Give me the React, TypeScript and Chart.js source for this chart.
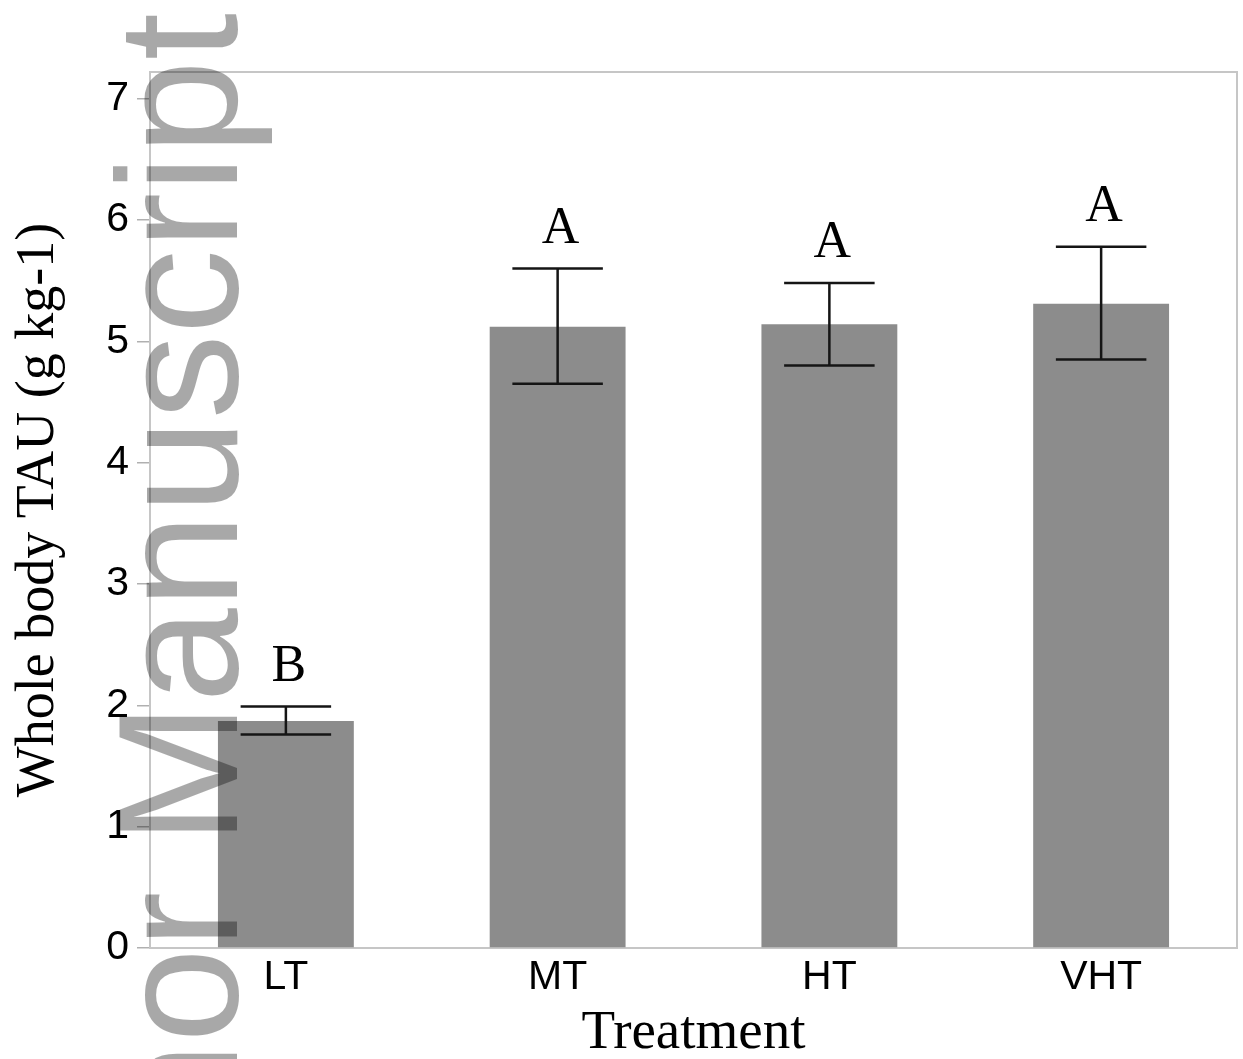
import React, { useEffect, useRef } from "react";
import { Chart, registerables } from "chart.js";

Chart.register(...registerables);

const categories = ["LT", "MT", "HT", "VHT"];
const means = [1.87, 5.12, 5.14, 5.31];
const errLow = [1.76, 4.65, 4.8, 4.85];
const errHigh = [1.99, 5.6, 5.48, 5.78];
const letters = ["B", "A", "A", "A"];
const yTicks = [0, 1, 2, 3, 4, 5, 6, 7];
const yMax = 7.22;
const xTitle = "Treatment";
const yTitle = "Whole body TAU (g kg-1)";
const watermarkText = "Author Manuscript";

const SANS = "'Liberation Sans Narrow', 'Arial Narrow', 'Liberation Sans', Arial, sans-serif";
const SERIF = "'Liberation Serif', 'Times New Roman', serif";

export default function App() {
  const ref = useRef<HTMLCanvasElement>(null);

  useEffect(() => {
    document.body.style.margin = "0";
    const canvas = ref.current;
    if (!canvas) return;

    const frame = {
      id: "frame",
      beforeDatasetsDraw(chart: any) {
        const { ctx, chartArea: a } = chart;
        ctx.save();
        ctx.strokeStyle = "#c6c6c6";
        ctx.lineWidth = 2;
        ctx.strokeRect(a.left, a.top, a.right - a.left, a.bottom - a.top);
        ctx.restore();
      },
    };

    const errorBars = {
      id: "errorBars",
      afterDatasetsDraw(chart: any) {
        const { ctx } = chart;
        const meta = chart.getDatasetMeta(0);
        const y = chart.scales.y;
        ctx.save();
        ctx.strokeStyle = "#151515";
        ctx.lineWidth = 2.5;
        meta.data.forEach((bar: any, i: number) => {
          const x = bar.x;
          const half = bar.width * 0.333;
          const yh = y.getPixelForValue(errHigh[i]);
          const yl = y.getPixelForValue(errLow[i]);
          ctx.beginPath();
          ctx.moveTo(x, yh);
          ctx.lineTo(x, yl);
          ctx.moveTo(x - half, yh);
          ctx.lineTo(x + half, yh);
          ctx.moveTo(x - half, yl);
          ctx.lineTo(x + half, yl);
          ctx.stroke();
          ctx.fillStyle = "#000";
          ctx.font = `52px ${SERIF}`;
          ctx.textAlign = "center";
          ctx.textBaseline = "alphabetic";
          ctx.fillText(letters[i], x + 3, yh - 26);
        });
        ctx.restore();
      },
    };

    const watermark = {
      id: "watermark",
      afterDraw(chart: any) {
        const { ctx } = chart;
        ctx.save();
        ctx.translate(237, 13);
        ctx.rotate(-Math.PI / 2);
        ctx.font = "170px 'Liberation Sans', Arial, sans-serif";
        ctx.fillStyle = "rgba(0,0,0,0.34)";
        ctx.textAlign = "right";
        ctx.textBaseline = "alphabetic";
        ctx.fillText(watermarkText, 0, 0);
        ctx.restore();
      },
    };

    const chart = new Chart(canvas, {
      type: "bar",
      data: {
        labels: categories,
        datasets: [
          {
            data: means,
            backgroundColor: "#8c8c8c",
            borderWidth: 0,
            barPercentage: 0.5,
            categoryPercentage: 1,
          },
        ],
      },
      options: {
        animation: false,
        responsive: true,
        maintainAspectRatio: false,
        layout: { padding: { top: 72, right: 6, left: 0, bottom: 0 } },
        plugins: {
          legend: { display: false },
          tooltip: { enabled: false },
        },
        scales: {
          x: {
            grid: { display: false, drawTicks: false },
            border: { display: false },
            ticks: {
              color: "#000",
              padding: 5,
              font: { family: SANS, size: 41 },
            },
            title: {
              display: true,
              text: xTitle,
              color: "#000",
              font: { family: SERIF, size: 55 },
              padding: { top: 0, bottom: -8 },
            },
            afterFit(scale: any) {
              scale.height = 111;
            },
          },
          y: {
            min: 0,
            max: yMax,
            grid: {
              drawOnChartArea: false,
              drawTicks: true,
              tickLength: 13,
              color: "#b0b0b0",
              lineWidth: 1.5,
            },
            border: { display: true, color: "#b8b8b8", width: 2 },
            ticks: {
              stepSize: 1,
              includeBounds: false,
              color: "#000",
              padding: 8,
              font: { family: SANS, size: 41 },
            },
            afterBuildTicks(scale: any) {
              scale.ticks = yTicks.map((v) => ({ value: v }));
            },
            title: {
              display: true,
              text: yTitle,
              color: "#000",
              font: { family: SERIF, size: 54 },
              padding: { top: 6, bottom: 0 },
            },
            afterFit(scale: any) {
              scale.width = 150;
            },
          },
        },
      },
      plugins: [frame, errorBars, watermark],
    });

    return () => chart.destroy();
  }, []);

  return (
    <div style={{ position: "absolute", left: 0, top: 0, width: 1243, height: 1059, background: "#fff" }}>
      <canvas ref={ref} />
    </div>
  );
}
